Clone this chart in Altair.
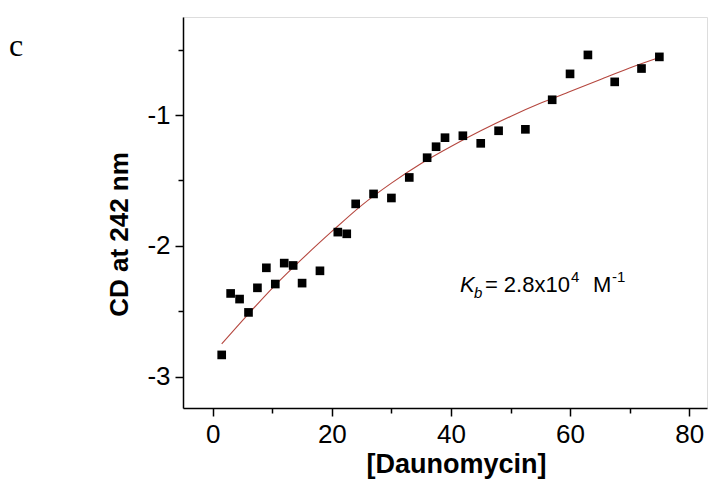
import altair as alt
import pandas as pd

# ---- data ----
conc = [1.5, 3, 4.5, 6, 7.5, 9, 10.5, 12, 13.5, 15, 18, 21, 22.5, 24, 27, 30,
        33, 36, 37.5, 39, 42, 45, 48, 52.5, 57, 60, 63, 67.5, 72, 75]
cd = [-2.834, -2.364, -2.407, -2.509, -2.321, -2.168, -2.292, -2.132, -2.150,
      -2.285, -2.191, -1.895, -1.908, -1.679, -1.603, -1.634, -1.477, -1.326,
      -1.242, -1.173, -1.158, -1.216, -1.120, -1.109, -0.883, -0.685, -0.540,
      -0.746, -0.644, -0.555]

fit_x = [1.5, 6, 10.5, 15, 20, 25, 30, 35, 40, 45, 50, 55, 60, 65, 70, 75]
fit_y = [-2.75, -2.52, -2.30, -2.10, -1.89, -1.69, -1.52, -1.37, -1.24, -1.12,
         -1.01, -0.91, -0.82, -0.73, -0.64, -0.56]

x_ticks = [0, 10, 20, 30, 40, 50, 60, 70, 80]
y_ticks = [-3, -2.5, -2, -1.5, -1, -0.5]

ann_x = [41.5]
ann_y = [-2.351]
panel_label = ["c"]

pts = pd.DataFrame({"x": conc, "y": cd})
fit = pd.DataFrame({"x": fit_x, "y": fit_y})
ann = pd.DataFrame({"x": ann_x, "y": ann_y})
panel = pd.DataFrame({"t": panel_label})

FONT = "Liberation Sans"

xscale = alt.Scale(domain=[-5, 83], nice=False, zero=False)
yscale = alt.Scale(domain=[-3.24, -0.25], nice=False, zero=False)

xaxis = alt.Axis(
    values=x_ticks,
    labelExpr="datum.value % 20 === 0 ? '' + datum.value : ''",
    tickSize={"condition": {"test": "datum.value % 20 === 0", "value": 8}, "value": 5},
    grid=False, domainColor="black", domainWidth=1.5, tickColor="black", tickWidth=1.5,
    labelFont=FONT, labelFontSize=26, labelColor="black", labelPadding=5,
    title="[Daunomycin]", titleFont=FONT, titleFontSize=27, titleFontWeight="bold",
    titleColor="black", titlePadding=4, titleX=273, labelFlush=False, labelOverlap=False,
)
yaxis = alt.Axis(
    values=y_ticks,
    labelExpr="datum.value % 1 === 0 ? '' + datum.value : ''",
    tickSize={"condition": {"test": "datum.value % 1 === 0", "value": 8}, "value": 5},
    grid=False, domainColor="black", domainWidth=1.5, tickColor="black", tickWidth=1.5,
    labelFont=FONT, labelFontSize=26, labelColor="black", labelPadding=5,
    title="CD at 242 nm", titleFont=FONT, titleFontSize=26, titleFontWeight="bold",
    titleColor="black", titlePadding=14, titleY=217, labelFlush=False, labelOverlap=False,
)

points = alt.Chart(pts).mark_square(size=75, color="black", opacity=1, filled=True).encode(
    x=alt.X("x:Q", scale=xscale, axis=xaxis),
    y=alt.Y("y:Q", scale=yscale, axis=yaxis),
)

curve = alt.Chart(fit).mark_line(color="#b5473f", strokeWidth=1.1, interpolate="monotone").encode(
    x=alt.X("x:Q", scale=xscale),
    y=alt.Y("y:Q", scale=yscale),
)

def piece(text, size, dx, dy=0, style="normal"):
    return alt.Chart(ann).mark_text(
        text=text, font=FONT, fontSize=size, fontStyle=style, align="left",
        baseline="alphabetic", dx=dx, dy=dy, color="black",
    ).encode(x=alt.X("x:Q", scale=xscale), y=alt.Y("y:Q", scale=yscale))

labels = [
    piece("K", 22, 0, 0, "italic"),
    piece("b", 15, 14, 6, "italic"),
    piece("= 2.8x10", 22, 25),
    piece("4", 15, 111, -10),
    piece("M", 22, 133),
    piece("-1", 15, 152, -10),
]

panel_text = alt.Chart(panel).mark_text(
    font="Liberation Serif", fontSize=32, align="left", baseline="alphabetic", color="black",
).encode(text="t:N", x=alt.value(-174), y=alt.value(39))

chart = alt.layer(curve, points, *labels, panel_text).properties(
    width=524,
    height=391,
    autosize=alt.AutoSizeParams(type="none"),
    padding={"left": 183, "top": 17, "right": 3, "bottom": 75},
).configure_view(stroke=None).configure(background="white")

chart.save("out.html", embed_options={"renderer": "svg", "actions": False})
